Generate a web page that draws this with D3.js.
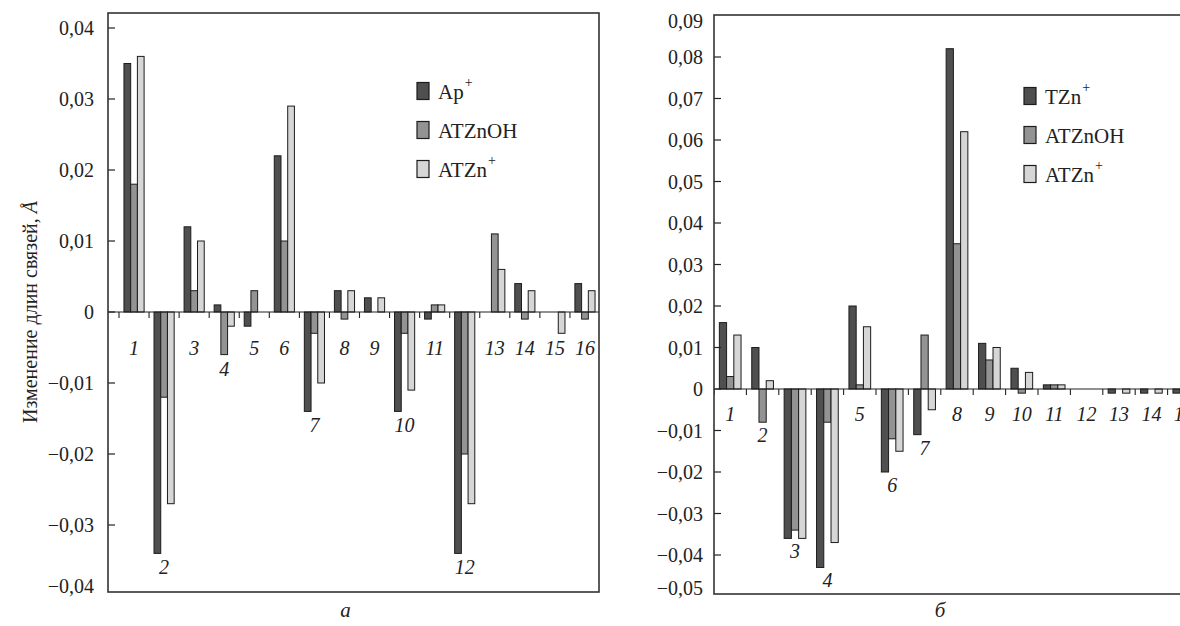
<!DOCTYPE html>
<html>
<head>
<meta charset="utf-8">
<script src="https://cdn.jsdelivr.net/npm/d3@7/dist/d3.min.js"></script>
<style>
  html, body { margin: 0; padding: 0; background: #fff; }
  svg { display: block; }
  text { font-family: "Liberation Serif", "DejaVu Serif", serif; fill: #222; }
</style>
</head>
<body>
<svg id="chart" width="1180" height="626"></svg>
<script>
// ---------- Data: panel a ----------
const groupsA = ["1","2","3","4","5","6","7","8","9","10","11","12","13","14","15","16"];
const seriesA = ["Ap", "ATZnOH", "ATZn"];
const supA = ["+", "", "+"];
const valuesA_Ap     = [0.035, -0.034, 0.012, 0.001, -0.002, 0.022, -0.014, 0.003, 0.002, -0.014, -0.001, -0.034, 0, 0.004, 0, 0.004];
const valuesA_ATZnOH = [0.018, -0.012, 0.003, -0.006, 0.003, 0.010, -0.003, -0.001, 0, -0.003, 0.001, -0.020, 0.011, -0.001, 0, -0.001];
const valuesA_ATZn   = [0.036, -0.027, 0.010, -0.002, 0, 0.029, -0.010, 0.003, 0.002, -0.011, 0.001, -0.027, 0.006, 0.003, -0.003, 0.003];
const ticksA = [-0.04, -0.03, -0.02, -0.01, 0, 0.01, 0.02, 0.03, 0.04];

// ---------- Data: panel б ----------
const groupsB = ["1","2","3","4","5","6","7","8","9","10","11","12","13","14","15"];
const seriesB = ["TZn", "ATZnOH", "ATZn"];
const supB = ["+", "", "+"];
const valuesB_TZn    = [0.016, 0.010, -0.036, -0.043, 0.020, -0.020, -0.011, 0.082, 0.011, 0.005, 0.001, 0, -0.001, -0.001, -0.001];
const valuesB_ATZnOH = [0.003, -0.008, -0.034, -0.008, 0.001, -0.012, 0.013, 0.035, 0.007, -0.001, 0.001, 0, 0, 0, 0];
const valuesB_ATZn   = [0.013, 0.002, -0.036, -0.037, 0.015, -0.015, -0.005, 0.062, 0.010, 0.004, 0.001, 0, -0.001, -0.001, -0.001];
const ticksB = [-0.05, -0.04, -0.03, -0.02, -0.01, 0, 0.01, 0.02, 0.03, 0.04, 0.05, 0.06, 0.07, 0.08, 0.09];

const yTitle = "Изменение длин связей, ";
const panelLabels = ["а", "б"];

// ---------- Styles ----------
const fills = ["#4f4f4f", "#939393", "#d6d6d6"];
const barStroke = "#1c1c1c";
const frameColor = "#333";

const svg = d3.select("#chart");
const fmt = v => v === 0 ? "0" : (v < 0 ? "\u2212" : "") + Math.abs(v).toFixed(2).replace(".", ",");

function panel(cfg) {
  const g = svg.append("g");
  const { frame, groups, series, sups, values, ticks, y, xRange, labelMinY, labelGap } = cfg;

  const x = d3.scaleBand().domain(groups).range(xRange).padding(0);
  const bw = x.bandwidth();
  const xi = d3.scaleBand().domain(series).range([bw * 0.165, bw * 0.835]).padding(0);

  const clipId = "clip" + cfg.id;
  svg.append("clipPath").attr("id", clipId).append("rect")
    .attr("x", frame.x0).attr("y", frame.y0 - 2)
    .attr("width", frame.x1 - frame.x0).attr("height", frame.y1 - frame.y0 + 4);

  const plot = g.append("g").attr("clip-path", `url(#${clipId})`);

  series.forEach((s, si) => {
    plot.append("g").selectAll("rect")
      .data(groups.map((gname, gi) => ({ g: gname, v: values[si][gi] })))
      .join("rect")
      .filter(d => d.v !== 0)
      .attr("x", d => x(d.g) + xi(s))
      .attr("width", xi.bandwidth())
      .attr("y", d => y(Math.max(0, d.v)))
      .attr("height", d => Math.abs(y(d.v) - y(0)))
      .attr("fill", fills[si])
      .attr("stroke", barStroke)
      .attr("stroke-width", 1);
  });

  plot.append("line")
    .attr("x1", frame.x0).attr("x2", frame.x1)
    .attr("y1", y(0)).attr("y2", y(0))
    .attr("stroke", "#222").attr("stroke-width", 1.2);

  const bounds = groups.map(gname => x(gname)).concat([xRange[1]]);
  plot.append("g").selectAll("line").data(bounds).join("line")
    .attr("x1", d => d).attr("x2", d => d)
    .attr("y1", y(0)).attr("y2", y(0) + 6)
    .attr("stroke", "#222").attr("stroke-width", 1.1);

  g.append("g").selectAll("text").data(groups).join("text")
    .attr("x", d => x(d) + bw / 2)
    .attr("y", (d, gi) => {
      const mn = Math.min(0, ...values.map(arr => arr[gi]));
      return Math.max(labelMinY, y(mn) + labelGap);
    })
    .attr("text-anchor", "middle")
    .attr("dominant-baseline", "central")
    .attr("font-style", "italic")
    .attr("font-size", 20)
    .text(d => d);

  g.append("g").selectAll("line").data(ticks.filter(t => y(t) > frame.y0 + 2 && y(t) < frame.y1 - 2)).join("line")
    .attr("x1", frame.x0).attr("x2", frame.x0 + 7)
    .attr("y1", d => y(d)).attr("y2", d => y(d))
    .attr("stroke", "#222").attr("stroke-width", 1.2);

  g.append("g").selectAll("text").data(ticks).join("text")
    .attr("x", frame.x0 - cfg.labelPad)
    .attr("y", d => Math.min(frame.y1 - 6, Math.max(frame.y0 + 6, y(d))))
    .attr("text-anchor", "end")
    .attr("dominant-baseline", "central")
    .attr("font-size", 20)
    .text(fmt);

  g.append("rect")
    .attr("x", frame.x0).attr("y", frame.y0)
    .attr("width", frame.x1 - frame.x0).attr("height", frame.y1 - frame.y0)
    .attr("fill", "none").attr("stroke", frameColor).attr("stroke-width", 1.6);

  const lg = g.append("g");
  series.forEach((s, si) => {
    const ly = cfg.legend.y + si * 39;
    lg.append("rect")
      .attr("x", cfg.legend.x).attr("y", ly - 8.5)
      .attr("width", 12).attr("height", 17)
      .attr("fill", fills[si]).attr("stroke", barStroke).attr("stroke-width", 1.2);
    const t = lg.append("text")
      .attr("x", cfg.legend.x + 21).attr("y", ly + 7.5)
      .attr("font-size", 21)
      .text(s);
    if (sups[si]) {
      t.append("tspan").attr("dx", 1).attr("dy", -12).attr("font-size", 14).text(sups[si]);
    }
  });

  g.append("text")
    .attr("x", (frame.x0 + Math.min(frame.x1, 1180)) / 2 + cfg.panelLabelDx)
    .attr("y", 617)
    .attr("text-anchor", "middle")
    .attr("font-style", "italic")
    .attr("font-size", 21)
    .text(cfg.panelLabel);
}

panel({
  id: "A",
  frame: { x0: 108, x1: 599, y0: 13, y1: 592 },
  groups: groupsA, series: seriesA, sups: supA,
  values: [valuesA_Ap, valuesA_ATZnOH, valuesA_ATZn],
  ticks: ticksA,
  y: d3.scaleLinear().domain([-0.04, 0.04]).range([596, 28]),
  xRange: [119, 600],
  labelMinY: 348, labelGap: 14,
  labelPad: 14,
  legend: { x: 417, y: 91 },
  panelLabel: panelLabels[0], panelLabelDx: -8
});

panel({
  id: "B",
  frame: { x0: 714, x1: 1210, y0: 15, y1: 594 },
  groups: groupsB, series: seriesB, sups: supB,
  values: [valuesB_TZn, valuesB_ATZnOH, valuesB_ATZn],
  ticks: ticksB,
  y: d3.scaleLinear().domain([-0.05, 0.09]).range([596.5, 15.5]),
  xRange: [714, 1200],
  labelMinY: 414, labelGap: 13,
  labelPad: 11,
  legend: { x: 1024, y: 96 },
  panelLabel: panelLabels[1], panelLabelDx: -7
});

const yt = svg.append("text")
  .attr("transform", "translate(30,312) rotate(-90)")
  .attr("text-anchor", "middle")
  .attr("dominant-baseline", "central")
  .attr("font-size", 20)
  .text(yTitle);
yt.append("tspan").attr("font-style", "italic").text("Å");
</script>
</body>
</html>
